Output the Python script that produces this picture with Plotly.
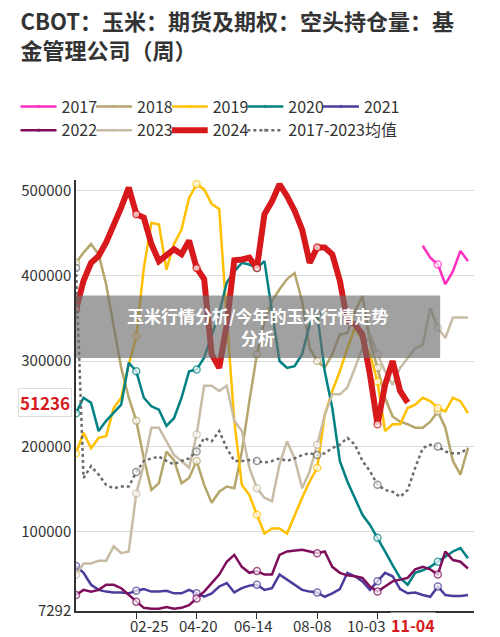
import plotly.graph_objects as go

weeks = list(range(53))

y2017 = [None] * 46 + [435, 421, 413, 390, 405, 429, 417]
y2018 = [415, 427, 437, 425, 390, 339, 292, 257, 230, 186, 149, 157, 194, 184, 157, 163, 183, 155, 134, 147, 153, 151, 194, 253,
         308, 347, 370, 384, 396, 403, 370, 315, 300, 292, 308, 331, 333, 358, 376, 323, 292, 257, 235, 229, 226, 222, 222, 229,
         241, 222, 183, 167, 198]
y2019 = [192, 216, 198, 210, 212, 245, 257, 296, 329, 409, 462, 460, 407, 437, 454, 491, 507, 501, 484, 478, 351, 230, 155, 143,
         120, 98, 104, 104, 98, 120, 140, 159, 175, 237, 265, 288, 315, 339, 323, 308, 276, 218, 226, 226, 245, 249, 257, 253,
         245, 241, 257, 253, 239]
y2020 = [239, 257, 251, 218, 230, 239, 249, 298, 288, 257, 247, 243, 224, 233, 257, 288, 290, 304, 331, 356, 392, 405, 415, 413,
         409, 417, 358, 300, 292, 294, 308, 343, 355, 288, 245, 183, 159, 140, 120, 108, 93, 77, 61, 46, 38, 52, 55, 59,
         65, 71, 77, 81, 69]
y2021 = [60, 52, 38, 32, 30, 29, 29, 28, 31, 33, 30, 30, 31, 28, 28, 32, 28, 24, 28, 36, 40, 29, 34, 37,
         38, 32, 34, 50, 44, 38, 32, 30, 29, 24, 28, 33, 52, 48, 42, 32, 42, 52, 48, 33, 28, 29, 26, 24,
         36, 26, 25, 25, 26]
y2022 = [26, 32, 30, 32, 38, 38, 34, 26, 18, 11, 10, 10, 12, 10, 11, 14, 22, 30, 40, 50, 65, 73, 59, 52,
         54, 50, 50, 73, 77, 78, 79, 77, 75, 77, 59, 52, 49, 48, 46, 36, 30, 36, 42, 44, 46, 56, 59, 56,
         50, 77, 67, 65, 57]
y2023 = [50, 63, 63, 66, 66, 83, 75, 77, 145, 179, 222, 222, 206, 190, 183, 175, 214, 271, 271, 265, 271, 230, 218, 175,
         151, 140, 136, 179, 206, 186, 151, 171, 202, 237, 261, 261, 269, 292, 315, 331, 308, 288, 272, 292, 304, 315, 319, 362,
         339, 327, 351, 351, 351]
y2024 = [360, 394, 415, 423, 439, 458, 480, 503, 472, 468, 437, 417, 423, 431, 425, 441, 409, 396, 308, 292, 343, 418, 419, 421,
         409, 472, 487, 507, 493, 476, 454, 415, 433, 433, 425, 394, 347, 343, 331, 284, 226, 272, 300, 265, 251.236]
yavg = [409, 163, 177, 167, 155, 151, 153, 153, 170, 183, 186, 188, 183, 179, 183, 186, 194, 210, 206, 218, 198, 183, 183, 184,
        183, 181, 183, 186, 183, 186, 190, 192, 190, 192, 198, 202, 210, 202, 183, 171, 155, 149, 147, 141, 149, 175, 198, 202,
        200, 194, 192, 192, 198]

series = [
    ("2017", y2017, "#ff2fc0", 2.5, "solid"),
    ("2018", y2018, "#b5a66c", 2.5, "solid"),
    ("2019", y2019, "#ffc000", 2.5, "solid"),
    ("2020", y2020, "#008183", 2.5, "solid"),
    ("2021", y2021, "#4d3c9c", 2.5, "solid"),
    ("2022", y2022, "#7e0d5c", 2.5, "solid"),
    ("2023", y2023, "#c9bca7", 2.5, "solid"),
    ("2024", y2024, "#d7191c", 6, "solid"),
    ("2017-2023均值", yavg, "#6b6b6b", 2.5, "dot"),
]

x_labels = [(9.7, "02-25"), (16.2, "04-20"), (23.5, "06-14"), (31.4, "08-08"), (38.5, "10-03")]

fig = go.Figure()
for name, vals, color, w, dash in series:
    ys = [v * 1000 if v is not None else None for v in vals]
    sizes = [7 if i % 8 == 0 else 0 for i in range(len(ys))]
    fig.add_trace(go.Scatter(
        x=weeks[:len(ys)], y=ys, name=name, mode="lines+markers",
        line=dict(color=color, width=w, dash=dash),
        marker=dict(size=sizes, color="white", line=dict(color=color, width=1.5)),
    ))

annotations = [dict(x=x, y=0, yshift=-2, xref="x", yref="paper", text=t, showarrow=False,
                    yanchor="top", font=dict(size=15, color="#333")) for x, t in x_labels]
annotations.append(dict(x=44.7, y=0, yshift=-1, xref="x", yref="paper", text="<b>11-04</b>", showarrow=False,
                        yanchor="top", bgcolor="white", borderpad=0, font=dict(size=16, color="#d7191c")))
annotations.append(dict(x=0, y=251236, xref="paper", yref="y", text="<b>51236</b>", showarrow=False,
                        xanchor="right", xshift=-4, bgcolor="white", bordercolor="#ddd",
                        font=dict(size=17, color="#d7191c")))
annotations.append(dict(x=0.457, y=0.66, xref="paper", yref="paper", showarrow=False,
                        text="<b>玉米行情分析/今年的玉米行情走势<br>分析</b>",
                        font=dict(size=17, color="white")))

fig.update_layout(
    width=500, height=637,
    margin=dict(l=68, r=34, t=172, b=34),
    paper_bgcolor="white", plot_bgcolor="white",
    font=dict(family="Noto Sans CJK SC", color="#333"),
    title=dict(text="<b>CBOT：玉米：期货及期权：空头持仓量：基<br>金管理公司（周）</b>",
               x=0.025, xanchor="left", y=0.965, yanchor="top", font=dict(size=22, color="#333")),
    legend=dict(orientation="h", xref="container", yref="container", x=0.015, y=0.872,
                xanchor="left", yanchor="top", entrywidthmode="fraction", entrywidth=0.19,
                font=dict(size=16, color="#333"), itemwidth=36, tracegroupgap=0),
    xaxis=dict(range=[0, 52.8], tickvals=[8, 16, 24, 32, 40], showticklabels=False,
               ticks="outside", ticklen=6, tickcolor="#333", showgrid=False,
               showline=True, linecolor="#333", linewidth=1.5, zeroline=False),
    yaxis=dict(range=[7292, 512000], tickvals=[7292, 100000, 200000, 300000, 400000, 500000],
               ticktext=["7292", "100000", "200000", "300000", "400000", "500000"],
               showgrid=True, gridcolor="#d9d9d9", showline=True, linecolor="#333", linewidth=1.5,
               zeroline=False, tickfont=dict(size=15, color="#333")),
    shapes=[dict(type="rect", xref="paper", yref="paper", x0=0, x1=0.915, y0=0.587, y1=0.732,
                 fillcolor="rgba(110,110,110,0.65)", line=dict(width=0), layer="above")],
    annotations=annotations,
)

fig.write_html("out.html")
